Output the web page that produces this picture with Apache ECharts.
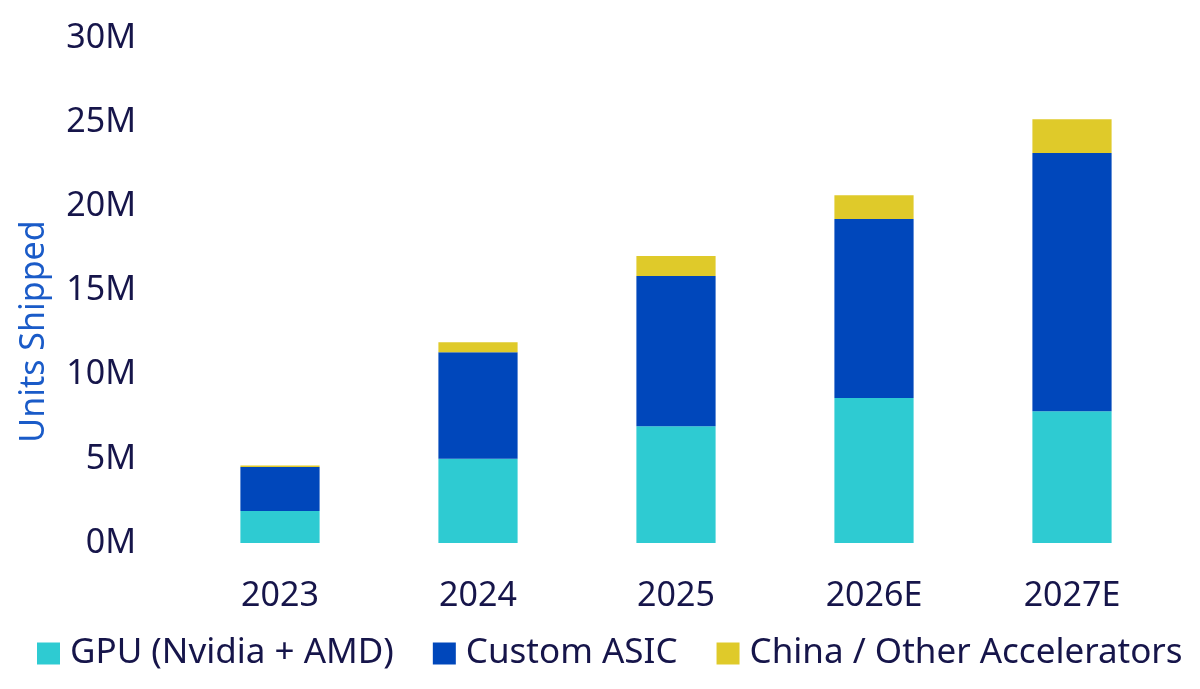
<!DOCTYPE html>
<html>
<head>
<meta charset="utf-8">
<script src="https://cdn.jsdelivr.net/npm/echarts@6/dist/echarts.min.js"></script>
<style>
	html, body { margin: 0; padding: 0; background: #fff; }
	#main { width: 1200px; height: 689px; }
</style>
</head>
<body>
<div id="main"></div>
<script>
// data, in millions of units
var years = ['2023', '2024', '2025', '2026E', '2027E'];
var gpuUnits = [1.9, 5.0, 6.93, 8.62, 7.83];
var asicUnits = [2.62, 6.33, 8.93, 10.63, 15.34];
var otherUnits = [0.08, 0.6, 1.19, 1.41, 2.0];
var seriesNames = ['GPU (Nvidia + AMD)', 'Custom ASIC', 'China / Other Accelerators'];

var textColor = '#16154a';
var fontName = 'Noto Sans';

var chart = echarts.init(document.getElementById('main'), null, { renderer: 'canvas' });

var option = {
	color: ['#2ecbd2', '#0047bb', '#dfca2a'],
	animation: false,
	textStyle: {
		fontFamily: fontName
	},
	legend: {
		data: seriesNames,
		bottom: 13,
		left: 32,
		itemWidth: 23,
		itemHeight: 22,
		itemGap: 39,
		icon: 'rect',
		textStyle: {
			color: textColor,
			fontSize: 35,
			fontFamily: fontName,
			padding: [0, 0, 0, 5]
		}
	},
	grid: {
		left: 181,
		right: 29,
		top: 38,
		bottom: 146,
		containLabel: false,
		outerBoundsMode: 'none'
	},
	xAxis: [{
		type: 'category',
		data: years,
		axisLine: { show: false },
		axisTick: { show: false },
		axisLabel: {
			color: textColor,
			fontSize: 34,
			fontFamily: fontName,
			margin: 36
		}
	}],
	yAxis: [{
		type: 'value',
		min: 0,
		max: 30,
		interval: 5,
		name: 'Units Shipped',
		nameLocation: 'middle',
		nameRotate: 90,
		nameGap: 130,
		nameTextStyle: {
			color: '#1a5bc8',
			fontSize: 34,
			fontFamily: fontName,
			padding: [0, 82, 0, 0]
		},
		splitLine: { show: false },
		axisLine: { show: false },
		axisTick: { show: false },
		axisLabel: {
			color: textColor,
			fontSize: 34,
			fontFamily: fontName,
			margin: 45,
			formatter: '{value}M'
		}
	}],
	series: [{
		name: seriesNames[0],
		type: 'bar',
		stack: 'units',
		barWidth: '40%',
		data: gpuUnits
	},
	{
		name: seriesNames[1],
		type: 'bar',
		stack: 'units',
		data: asicUnits
	},
	{
		name: seriesNames[2],
		type: 'bar',
		stack: 'units',
		data: otherUnits
	}
	]
};

chart.setOption(option);
</script>
</body>
</html>
